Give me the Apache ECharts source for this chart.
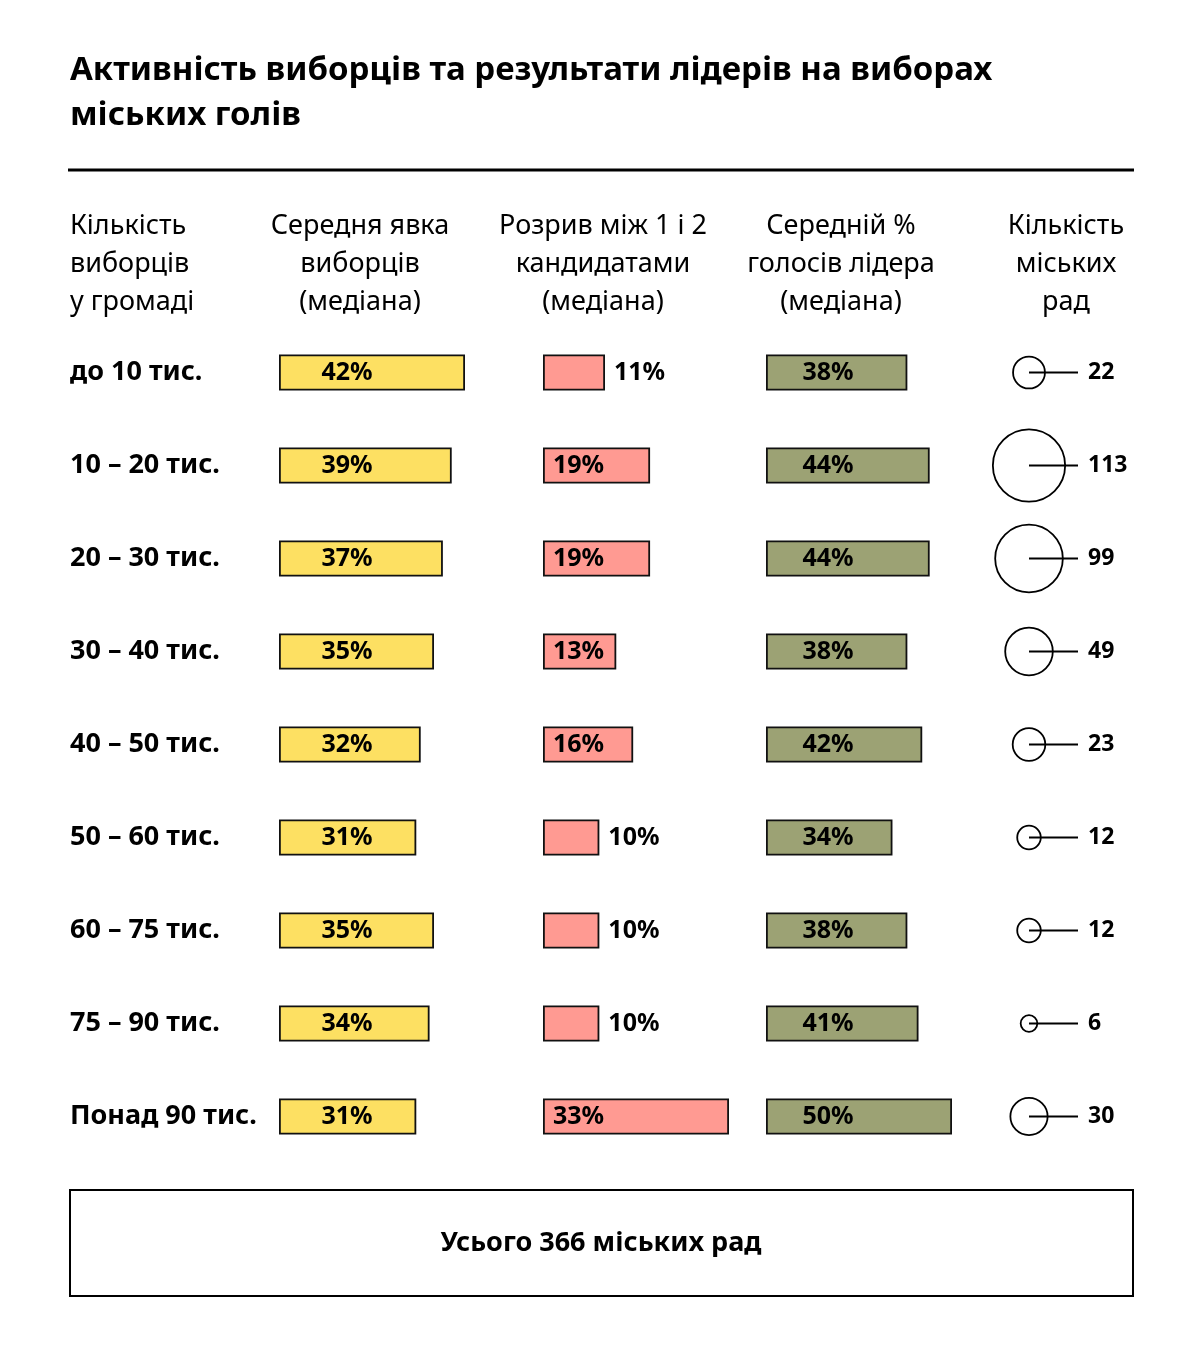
<!DOCTYPE html>
<html>
<head>
<meta charset="utf-8">
<script src="https://cdn.jsdelivr.net/npm/echarts@6/dist/echarts.min.js"></script>
<style>
html,body{margin:0;padding:0;background:#fff;}
#chart{width:1200px;height:1350px;}
</style>
</head>
<body>
<div id="chart"></div>
<script>
const titleText = 'Активність виборців та результати лідерів на виборах\nміських голів';
const categories = ['до 10 тис.', '10 – 20 тис.', '20 – 30 тис.', '30 – 40 тис.', '40 – 50 тис.', '50 – 60 тис.', '60 – 75 тис.', '75 – 90 тис.', 'Понад 90 тис.'];
const turnout = [42, 39, 37, 35, 32, 31, 35, 34, 31];
const gap = [11, 19, 19, 13, 16, 10, 10, 10, 33];
const leader = [38, 44, 44, 38, 42, 34, 38, 41, 50];
const councils = [22, 113, 99, 49, 23, 12, 12, 6, 30];
const headers = [
  'Кількість\nвиборців\nу громаді',
  'Середня явка\nвиборців\n(медіана)',
  'Розрив між 1 і 2\nкандидатами\n(медіана)',
  'Середній %\nголосів лідера\n(медіана)',
  'Кількість\nміських\nрад'
];
const totalText = 'Усього 366 міських рад';

const FONT = '"Noto Sans", sans-serif';
const chart = echarts.init(document.getElementById('chart'));

const rowTop = 326, rowH = 93, n = categories.length;
const gridH = rowH * n;
const barW = 186;
const cols = [
  {left: 279, max: Math.max(...turnout)},
  {left: 543, max: Math.max(...gap)},
  {left: 766, max: Math.max(...leader)},
  {left: 1029, max: 100}
];

const grids = cols.map(c => ({left: c.left, top: rowTop, width: c.left === 1029 ? 100 : barW, height: gridH, containLabel: false}));
const xAxes = cols.map((c, i) => ({gridIndex: i, type: 'value', min: 0, max: c.max, show: false}));
const yAxes = cols.map((c, i) => ({
  gridIndex: i, type: 'category', data: categories, inverse: true,
  axisLine: {show: false}, axisTick: {show: false}, splitLine: {show: false},
  axisLabel: i === 0 ? {show: true, align: 'left', margin: 279 - 70, color: '#000', fontFamily: FONT, fontWeight: 'bold', fontSize: 27} : {show: false}
}));

const barBase = {
  type: 'bar', barWidth: 36,
  itemStyle: {borderColor: '#111', borderWidth: 1.8},
  emphasis: {disabled: true}, silent: true,
  label: {show: true, color: '#000', fontFamily: FONT, fontWeight: 'bold', fontSize: 25}
};

function pctFmt(p) { return p.value + '%'; }

const series = [
  Object.assign({}, barBase, {
    xAxisIndex: 0, yAxisIndex: 0, data: turnout,
    itemStyle: Object.assign({}, barBase.itemStyle, {color: '#FDE062'}),
    label: Object.assign({}, barBase.label, {position: [68, '50%'], align: 'center', verticalAlign: 'middle', formatter: pctFmt})
  }),
  Object.assign({}, barBase, {
    xAxisIndex: 1, yAxisIndex: 1,
    data: gap.map(v => ({value: v, label: v < 12 ? {position: 'right', distance: 9} : {position: 'insideLeft', distance: 10}})),
    itemStyle: Object.assign({}, barBase.itemStyle, {color: '#FF9A92'}),
    label: Object.assign({}, barBase.label, {formatter: pctFmt})
  }),
  Object.assign({}, barBase, {
    xAxisIndex: 2, yAxisIndex: 2, data: leader,
    itemStyle: Object.assign({}, barBase.itemStyle, {color: '#9CA274'}),
    label: Object.assign({}, barBase.label, {position: [62, '50%'], align: 'center', verticalAlign: 'middle', formatter: pctFmt})
  }),
  {
    type: 'custom', xAxisIndex: 3, yAxisIndex: 3, silent: true,
    data: councils.map((v, i) => [0, i, v]),
    encode: {x: 0, y: 1},
    renderItem: function (params, api) {
      const v = api.value(2);
      const c = api.coord([0, api.value(1)]);
      const r = 3.4 * Math.sqrt(v);
      return {
        type: 'group',
        children: [
          {type: 'circle', shape: {cx: c[0], cy: c[1], r: r}, style: {fill: '#fff', stroke: '#000', lineWidth: 1.8}},
          {type: 'line', shape: {x1: c[0], y1: c[1], x2: c[0] + 49, y2: c[1]}, style: {stroke: '#000', lineWidth: 1.8}},
          {type: 'text', x: c[0] + 59, y: c[1], style: {text: String(v), fill: '#000', font: 'bold 23px ' + FONT, textAlign: 'left', textVerticalAlign: 'middle'}}
        ]
      };
    }
  }
];

const headerPos = [
  {x: 70, align: 'left'},
  {x: 360, align: 'center'},
  {x: 603, align: 'center'},
  {x: 841, align: 'center'},
  {x: 1066, align: 'center'}
];

const graphics = [
  {type: 'line', shape: {x1: 68, y1: 170, x2: 1134, y2: 170}, style: {stroke: '#000', lineWidth: 3}},
  {type: 'rect', shape: {x: 70, y: 1190, width: 1063, height: 106}, style: {fill: '#fff', stroke: '#000', lineWidth: 2}},
  {type: 'text', x: 601, y: 1243, style: {text: totalText, fill: '#000', font: 'bold 27px ' + FONT, textAlign: 'center', textVerticalAlign: 'middle'}}
].concat(headers.map((h, i) => ({
  type: 'text', x: headerPos[i].x, y: 207,
  style: {text: h, fill: '#000', font: '27px ' + FONT, lineHeight: 38, textAlign: headerPos[i].align, textVerticalAlign: 'top', align: headerPos[i].align}
})));

chart.setOption({
  backgroundColor: '#fff',
  animation: false,
  title: {
    text: titleText, left: 70, top: 48, padding: 0,
    textStyle: {fontFamily: FONT, fontWeight: 'bold', fontSize: 33, lineHeight: 45, color: '#000'}
  },
  grid: grids,
  xAxis: xAxes,
  yAxis: yAxes,
  series: series,
  graphic: graphics
});
</script>
</body>
</html>
